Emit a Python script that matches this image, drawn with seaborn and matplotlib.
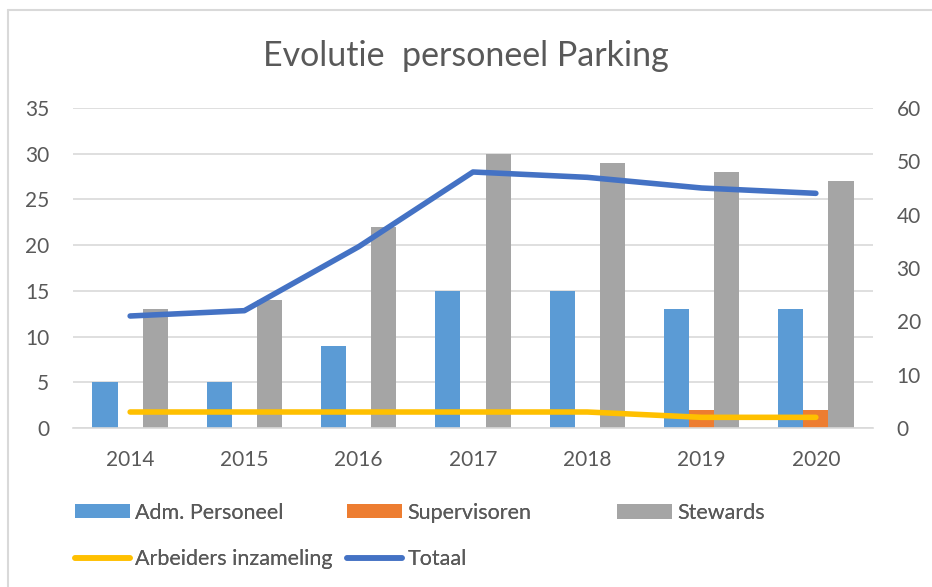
import pandas as pd
import numpy as np
import matplotlib.pyplot as plt
import seaborn as sns
from matplotlib.lines import Line2D
from matplotlib.patches import Patch

# data
jaren = ["2014", "2015", "2016", "2017", "2018", "2019", "2020"]
adm_personeel = [5, 5, 9, 15, 15, 13, 13]
supervisoren = [0, 0, 0, 0, 0, 2, 2]
stewards = [13, 14, 22, 30, 29, 28, 27]
arbeiders = [3, 3, 3, 3, 3, 2, 2]
totaal = [21, 22, 34, 48, 47, 45, 44]

reeksen = ["Adm. Personeel", "Supervisoren", "Stewards"]
kleuren = {"Adm. Personeel": "#5B9BD5", "Supervisoren": "#ED7D31", "Stewards": "#A5A5A5"}
geel, blauw = "#FFC000", "#4472C4"
grijs = "#595959"

df_bars = pd.DataFrame({
    "jaar": jaren * 3,
    "reeks": sum([[r] * len(jaren) for r in reeksen], []),
    "waarde": adm_personeel + supervisoren + stewards,
})
df_lijn = pd.DataFrame({"jaar": jaren, "Arbeiders inzameling": arbeiders, "Totaal": totaal})

sns.set_style("white")
plt.rcParams["font.family"] = ["Lato", "DejaVu Sans"]

W, H = 932, 587
fig = plt.figure(figsize=(W / 100, H / 100), dpi=100)
ax = fig.add_axes([73 / W, 1 - 428 / H, 800 / W, 320 / H])

sns.barplot(data=df_bars, x="jaar", y="waarde", hue="reeks", hue_order=reeksen,
            palette=kleuren, width=0.66, gap=0, ax=ax, legend=False, saturation=1,
            edgecolor="none")
ax.set_ylim(0, 35)
ax.set_yticks(range(0, 36, 5))
ax.set_xlim(-0.5, 6.5)
ax.yaxis.grid(True, color="#D9D9D9", linewidth=1.2)
ax.set_axisbelow(True)
for s in ["top", "right", "left"]:
    ax.spines[s].set_visible(False)
ax.spines["bottom"].set_color("#D9D9D9")
ax.spines["bottom"].set_linewidth(1.2)
ax.set_xlabel("")
ax.set_ylabel("")
ax.tick_params(axis="y", length=0, pad=17, labelsize=15, labelcolor=grijs)
ax.tick_params(axis="x", length=0, pad=16, labelsize=15, labelcolor=grijs)

# lijnen op de rechter as
ax2 = ax.twinx()
sns.lineplot(data=df_lijn, x="jaar", y="Arbeiders inzameling", color=geel,
             linewidth=4, ax=ax2, solid_capstyle="round")
sns.lineplot(data=df_lijn, x="jaar", y="Totaal", color=blauw,
             linewidth=4, ax=ax2, solid_capstyle="round")
ax2.set_ylim(0, 60)
ax2.set_yticks(range(0, 61, 10))
ax2.set_xlim(-0.5, 6.5)
ax2.set_ylabel("")
for s in ax2.spines.values():
    s.set_visible(False)
ax2.tick_params(axis="y", length=0, pad=17, labelsize=15, labelcolor=grijs)

fig.text(0.5, 1 - 56 / H, "Evolutie  personeel Parking", ha="center", va="center",
         fontsize=24.5, color=grijs)

# legenda: drie kolommen met gelijke breedte
def patch(r):
    return Patch(facecolor=kleuren[r], edgecolor="none")

def lijn(c):
    return Line2D([0], [0], color=c, lw=4, solid_capstyle="round")

kolommen = [
    (75, [patch("Adm. Personeel"), lijn(geel)], ["Adm. Personeel", "Arbeiders inzameling"]),
    (347, [patch("Supervisoren"), lijn(blauw)], ["Supervisoren", "Totaal"]),
    (617, [patch("Stewards")], ["Stewards"]),
]
for x, handles, labels in kolommen:
    yc = 536 if len(handles) == 2 else 513
    leg = fig.legend(handles, labels, loc="center left", bbox_to_anchor=(x / W, 1 - yc / H),
                     frameon=False, fontsize=15.5, labelcolor=grijs,
                     handlelength=2.55, handleheight=0.65, handletextpad=0.25,
                     labelspacing=1.25, borderpad=0, borderaxespad=0)
    fig.add_artist(leg)

# rand van de grafiek
fig.add_artist(Line2D([8 / W, 1], [1 - 10 / H, 1 - 10 / H], color="#D9D9D9", lw=1.5))
fig.add_artist(Line2D([8 / W, 8 / W], [0, 1 - 10 / H], color="#D9D9D9", lw=1.5))

fig.savefig("out.png", dpi=100)
